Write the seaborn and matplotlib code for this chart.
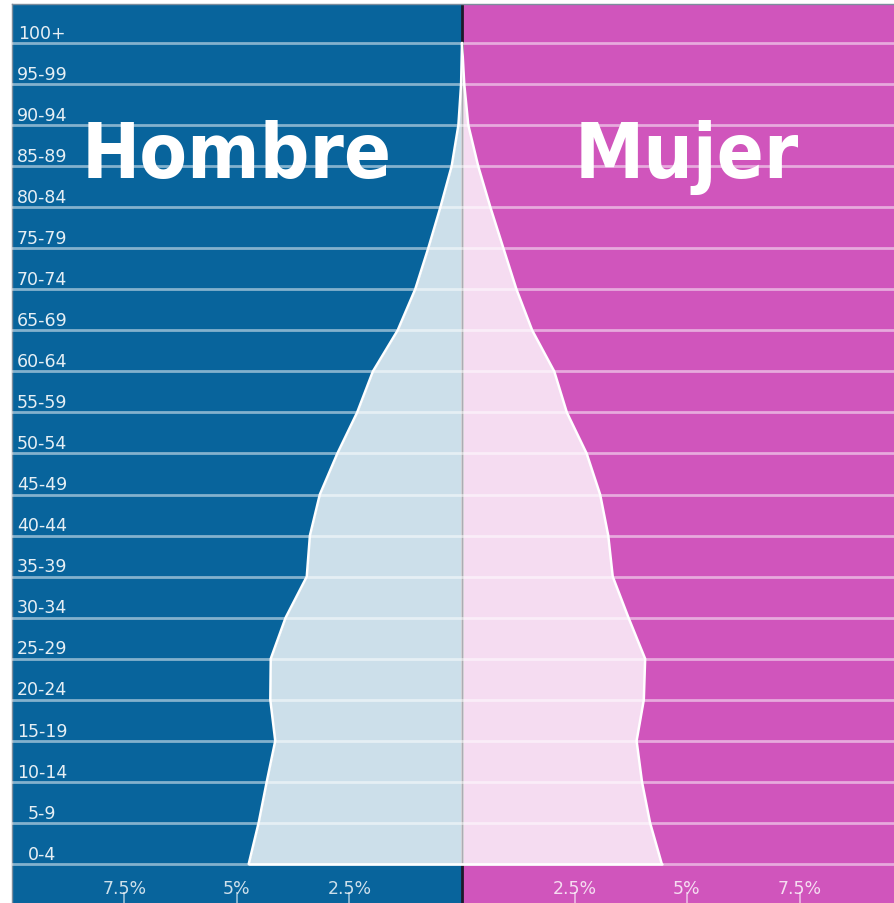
import matplotlib
matplotlib.use('Agg')
import matplotlib.pyplot as plt
from matplotlib import font_manager
import numpy as np
import pandas as pd
import seaborn as sns

# población por grupo de edad (% del total), de 0-4 a 100+
age_groups = ['0-4', '5-9', '10-14', '15-19', '20-24', '25-29', '30-34',
              '35-39', '40-44', '45-49', '50-54', '55-59', '60-64', '65-69',
              '70-74', '75-79', '80-84', '85-89', '90-94', '95-99', '100+']
hombre = [4.74, 4.52, 4.34, 4.15, 4.26, 4.25, 3.92, 3.45, 3.38, 3.16, 2.77,
          2.33, 1.98, 1.43, 1.04, 0.75, 0.48, 0.23, 0.08, 0.02, 0.0]
mujer = [4.44, 4.18, 4.00, 3.88, 4.04, 4.07, 3.70, 3.35, 3.25, 3.07, 2.77,
         2.33, 2.05, 1.56, 1.21, 0.92, 0.63, 0.36, 0.14, 0.05, 0.0]
x_ticks = [-7.5, -5, -2.5, 2.5, 5, 7.5]
x_tick_labels = ['7.5%', '5%', '2.5%', '2.5%', '5%', '7.5%']

blue = '#08649c'
pink = '#d055bc'

sns.set_theme(style='white')
plt.rcParams['font.family'] = ['DejaVu Sans']


# busca una fuente condensada y negrita para los titulos
def condensed_font():
    stretch_val = font_manager.stretch_dict
    weight_val = font_manager.weight_dict
    best = None
    for f in font_manager.fontManager.ttflist:
        st = f.stretch if isinstance(f.stretch, int) else stretch_val.get(f.stretch, 500)
        wt = f.weight if isinstance(f.weight, int) else weight_val.get(f.weight, 400)
        if st > 300 or wt < 600 or f.style != 'normal':
            continue
        key = (st, abs(wt - 700))
        if best is None or key < best[0]:
            best = (key, f.fname)
    if best is None:
        return font_manager.FontProperties(family='DejaVu Sans', weight='bold',
                                           stretch='condensed')
    return font_manager.FontProperties(fname=best[1])


df = pd.DataFrame({'grupo': age_groups,
                   'pos': np.arange(len(age_groups)),
                   'hombre': -np.array(hombre),
                   'mujer': np.array(mujer)})

fig = plt.figure(figsize=(8.95, 9.04), dpi=100)
ax = fig.add_axes([12 / 895, 0, 900 / 895, 899 / 904])
ax.set_xlim(-10, 10)
ax.set_ylim(-0.95, 20.95)

# fondos
ax.axvspan(-10, 0, color=blue, lw=0, zorder=0)
ax.axvspan(0, 10, color=pink, lw=0, zorder=0)
ax.axvline(0, color='#1c1a2a', lw=2, zorder=1)

# areas de la piramide
ax.fill_betweenx(df['pos'], df['hombre'], 0, color='white', alpha=0.8, lw=0, zorder=2)
ax.fill_betweenx(df['pos'], 0, df['mujer'], color='white', alpha=0.8, lw=0, zorder=2)

# lineas horizontales por grupo
for p in df['pos']:
    ax.axhline(p, color='white', alpha=0.5, lw=2, zorder=3)

# contorno
sns.lineplot(data=df, x='hombre', y='pos', orient='y', sort=False, estimator=None,
             color='white', lw=1.8, ax=ax, zorder=4, legend=False)
sns.lineplot(data=df, x='mujer', y='pos', orient='y', sort=False, estimator=None,
             color='white', lw=1.8, ax=ax, zorder=4, legend=False)
ax.plot([df['hombre'].iloc[0], df['mujer'].iloc[0]], [df['pos'].iloc[0]] * 2,
        color='white', lw=1.8, zorder=4)

# titulos: tamaño ajustado para que "Hombre" mida ~310 px de ancho
fp = condensed_font()
t1 = ax.text(-5, 16.2, 'Hombre', color='white', fontproperties=fp, fontsize=100,
             ha='center', va='baseline', zorder=6)
t2 = ax.text(5, 16.2, 'Mujer', color='white', fontproperties=fp, fontsize=100,
             ha='center', va='baseline', zorder=6)
renderer = fig.canvas.get_renderer()
w = t1.get_window_extent(renderer).width
fs = min(100, 100 * 310 / w)
base_px = 150 + fs * 0.72 * 100 / 72 / 2
for t in (t1, t2):
    t.set_fontsize(fs)
    t.set_y(20 - (base_px - 44) / 41.05)

# ejes
ax.set_xticks(x_ticks, x_tick_labels)
ax.tick_params(axis='x', bottom=True, direction='in', length=8, width=1.2,
               color=(1, 1, 1, 0.6), labelcolor=(1, 1, 1, 0.8), labelsize=12.5,
               pad=-17.5)
ax.set_yticks(df['pos'] + 0.3, age_groups)
ax.tick_params(axis='y', left=False, length=0, pad=-21.6, labelsize=12.5,
               labelcolor=(1, 1, 1, 0.9))
for lbl in ax.get_yticklabels():
    lbl.set_horizontalalignment('center')
for lbl in ax.get_xticklabels() + ax.get_yticklabels():
    lbl.set_zorder(6)
ax.set_xlabel('')
ax.set_ylabel('')
ax.grid(False)
ax.spines['right'].set_visible(False)
ax.spines['bottom'].set_visible(False)
for s in ['top', 'left']:
    ax.spines[s].set_color('#7d8d9d')
    ax.spines[s].set_linewidth(1)

fig.savefig('out.png', dpi=100)
